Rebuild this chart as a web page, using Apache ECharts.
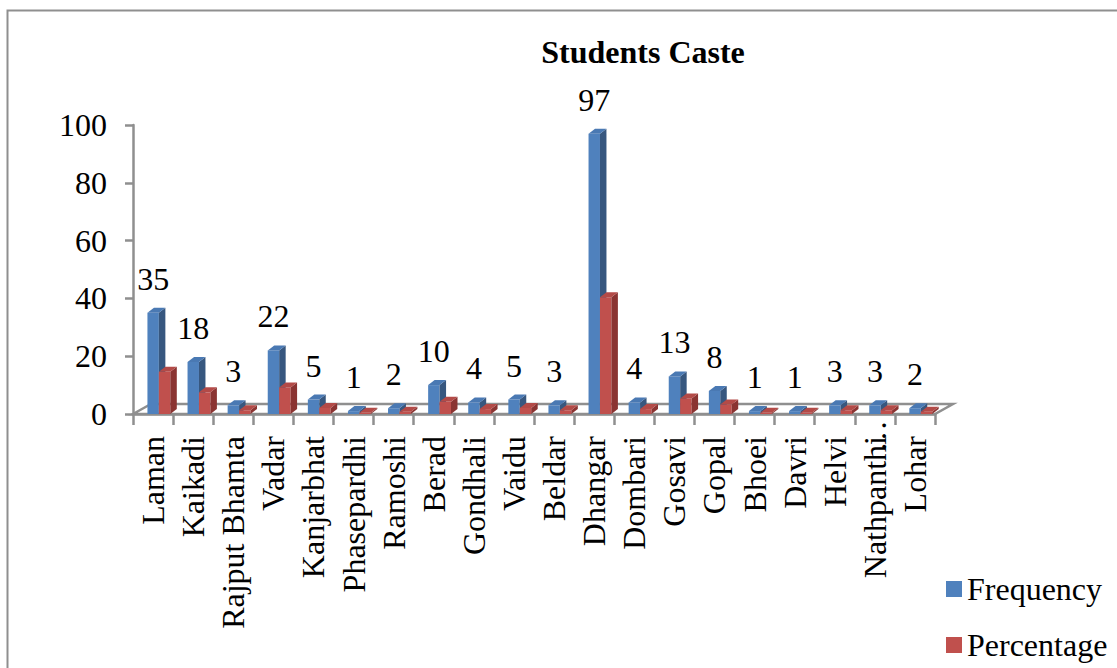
<!DOCTYPE html>
<html>
<head>
<meta charset="utf-8">
<title>Students Caste</title>
<script src="https://cdn.jsdelivr.net/npm/echarts@6/dist/echarts.min.js"></script>
<style>
  html, body { margin: 0; padding: 0; background: #ffffff; }
  #chart { width: 1117px; height: 668px; }
</style>
</head>
<body>
<div id="chart"></div>
<script>
// Caste groups of the surveyed students
const categories = ['Laman', 'Kaikadi', 'Rajput Bhamta', 'Vadar', 'Kanjarbhat', 'Phasepardhi',
  'Ramoshi', 'Berad', 'Gondhali', 'Vaidu', 'Beldar', 'Dhangar', 'Dombari', 'Gosavi', 'Gopal',
  'Bhoei', 'Davri', 'Helvi', 'Nathpanthi…', 'Lohar'];

// Number of students in each group
const frequency = [35, 18, 3, 22, 5, 1, 2, 10, 4, 5, 3, 97, 4, 13, 8, 1, 1, 3, 3, 2];

// Share of all students, in percent
const percentage = [14.6, 7.5, 1.3, 9.2, 2.1, 0.4, 0.8, 4.2, 1.7, 2.1, 1.3, 40.4, 1.7, 5.4, 3.3,
  0.4, 0.4, 1.3, 1.3, 0.8];

// Value axis scale
const yMin = 0;
const yMax = 100;
const yStep = 20;

const FONT = "'Liberation Serif', 'Times New Roman', serif";
const FONT_SIZE = 32;
const AXIS_GRAY = '#8f8f8f';
const DEPTH_X = 6.5;   // bar depth offsets (pseudo 3D)
const DEPTH_Y = -5;

const palette = [
  { front: '#4f81bd', side: '#37577f', top: '#4a79b3' },
  { front: '#c0504d', side: '#8a3432', top: '#b34a47' }
];

function makeBarRenderer(seriesPos, withLabel) {
  return function (params, api) {
    const ci = api.value(0);
    const v = api.value(1);
    const base = api.coord([ci, 0]);
    const top = api.coord([ci, v]);
    const band = api.size([1, 0])[0];
    const w = band * 0.285;
    const x0 = base[0] - band / 2 + band * 0.36 + seriesPos * w;
    const x1 = x0 + w;
    const yb = base[1];
    const yt = top[1];
    const c = palette[seriesPos];
    const children = [
      { type: 'rect', shape: { x: x0, y: yt, width: w, height: yb - yt },
        style: { fill: c.front } },
      { type: 'polygon', shape: { points: [[x1, yt], [x1 + DEPTH_X, yt + DEPTH_Y], [x1 + DEPTH_X, yb + DEPTH_Y], [x1, yb]] },
        style: { fill: c.side } },
      { type: 'polygon', shape: { points: [[x0, yt], [x0 + DEPTH_X, yt + DEPTH_Y], [x1 + DEPTH_X, yt + DEPTH_Y], [x1, yt]] },
        style: { fill: c.top } }
    ];
    if (withLabel) {
      children.push({
        type: 'text',
        style: {
          text: String(v), x: x0 + w / 2, y: yt - 18,
          align: 'center', verticalAlign: 'bottom',
          fontFamily: FONT, fontSize: FONT_SIZE, fill: '#000000'
        }
      });
    }
    return { type: 'group', children: children };
  };
}

function renderFloor(params, api) {
  const n = categories.length;
  const band = api.size([1, 0])[0];
  const left = api.coord([0, 0])[0] - band / 2;
  const right = api.coord([n - 1, 0])[0] + band / 2;
  const y0 = api.coord([0, 0])[1];
  const dx = 18, dy = -10;
  return {
    type: 'group',
    children: [
      { type: 'polygon', shape: { points: [[left, y0], [left + dx, y0 + dy], [right + dx, y0 + dy], [right, y0]] },
        style: { fill: 'none', stroke: AXIS_GRAY, lineWidth: 2.5 } }
    ]
  };
}

// A truncated name keeps its ellipsis outside the label box, spilling toward the axis
function categoryLabel(name) {
  const cut = name.indexOf('…');
  if (cut < 0) return '{n|' + name + '}';
  return '{n|' + name.slice(0, cut) + '}{e|…}';
}

const chart = echarts.init(document.getElementById('chart'), null, { renderer: 'svg' });

chart.setOption({
  backgroundColor: '#ffffff',
  animation: false,
  title: {
    text: 'Students Caste',
    left: 638, top: 31, textAlign: 'center',
    textStyle: { fontFamily: FONT, fontSize: FONT_SIZE, fontWeight: 'bold', color: '#000000' }
  },
  graphic: [{
    type: 'rect', left: 5, top: 8, z: -10,
    shape: { width: 1130, height: 680 },
    style: { fill: 'none', stroke: AXIS_GRAY, lineWidth: 2 }
  }],
  legend: {
    data: ['Frequency', 'Percentage'],
    orient: 'vertical', left: 946, top: 573, padding: 0,
    icon: 'rect', itemWidth: 16, itemHeight: 16, itemGap: 24,
    textStyle: { fontFamily: FONT, fontSize: FONT_SIZE, color: '#000000', lineHeight: 32 }
  },
  grid: { left: 133, right: 182, top: 125, bottom: 254, containLabel: false },
  xAxis: {
    type: 'category',
    data: categories,
    boundaryGap: true,
    axisLine: { show: true, lineStyle: { color: AXIS_GRAY, width: 2.5 } },
    axisTick: { show: true, length: 11, alignWithLabel: false, lineStyle: { color: AXIS_GRAY, width: 2.5 } },
    axisLabel: {
      rotate: 90, margin: 22, interval: 0, fontFamily: FONT, fontSize: FONT_SIZE, color: '#000000',
      formatter: categoryLabel,
      rich: {
        n: { fontFamily: FONT, fontSize: FONT_SIZE, color: '#000000' },
        e: { fontFamily: FONT, fontSize: FONT_SIZE, color: '#000000', width: 0, align: 'left' }
      }
    },
    splitLine: { show: false }
  },
  yAxis: {
    type: 'value',
    min: yMin, max: yMax, interval: yStep,
    axisLine: { show: true, lineStyle: { color: AXIS_GRAY, width: 2.5 } },
    axisTick: { show: true, length: 8, lineStyle: { color: AXIS_GRAY, width: 2.5 } },
    axisLabel: { margin: 26, fontFamily: FONT, fontSize: FONT_SIZE, color: '#000000' },
    splitLine: { show: false }
  },
  series: [
    {
      name: 'floor', type: 'custom', z: 1, silent: true,
      renderItem: renderFloor,
      data: [[0, 0]]
    },
    {
      name: 'Frequency', type: 'custom', z: 3,
      itemStyle: { color: palette[0].front },
      renderItem: makeBarRenderer(0, true),
      encode: { x: 0, y: 1 },
      data: frequency.map((v, i) => [i, v])
    },
    {
      name: 'Percentage', type: 'custom', z: 4,
      itemStyle: { color: palette[1].front },
      renderItem: makeBarRenderer(1, false),
      encode: { x: 0, y: 1 },
      data: percentage.map((v, i) => [i, v])
    }
  ]
});
</script>
</body>
</html>
